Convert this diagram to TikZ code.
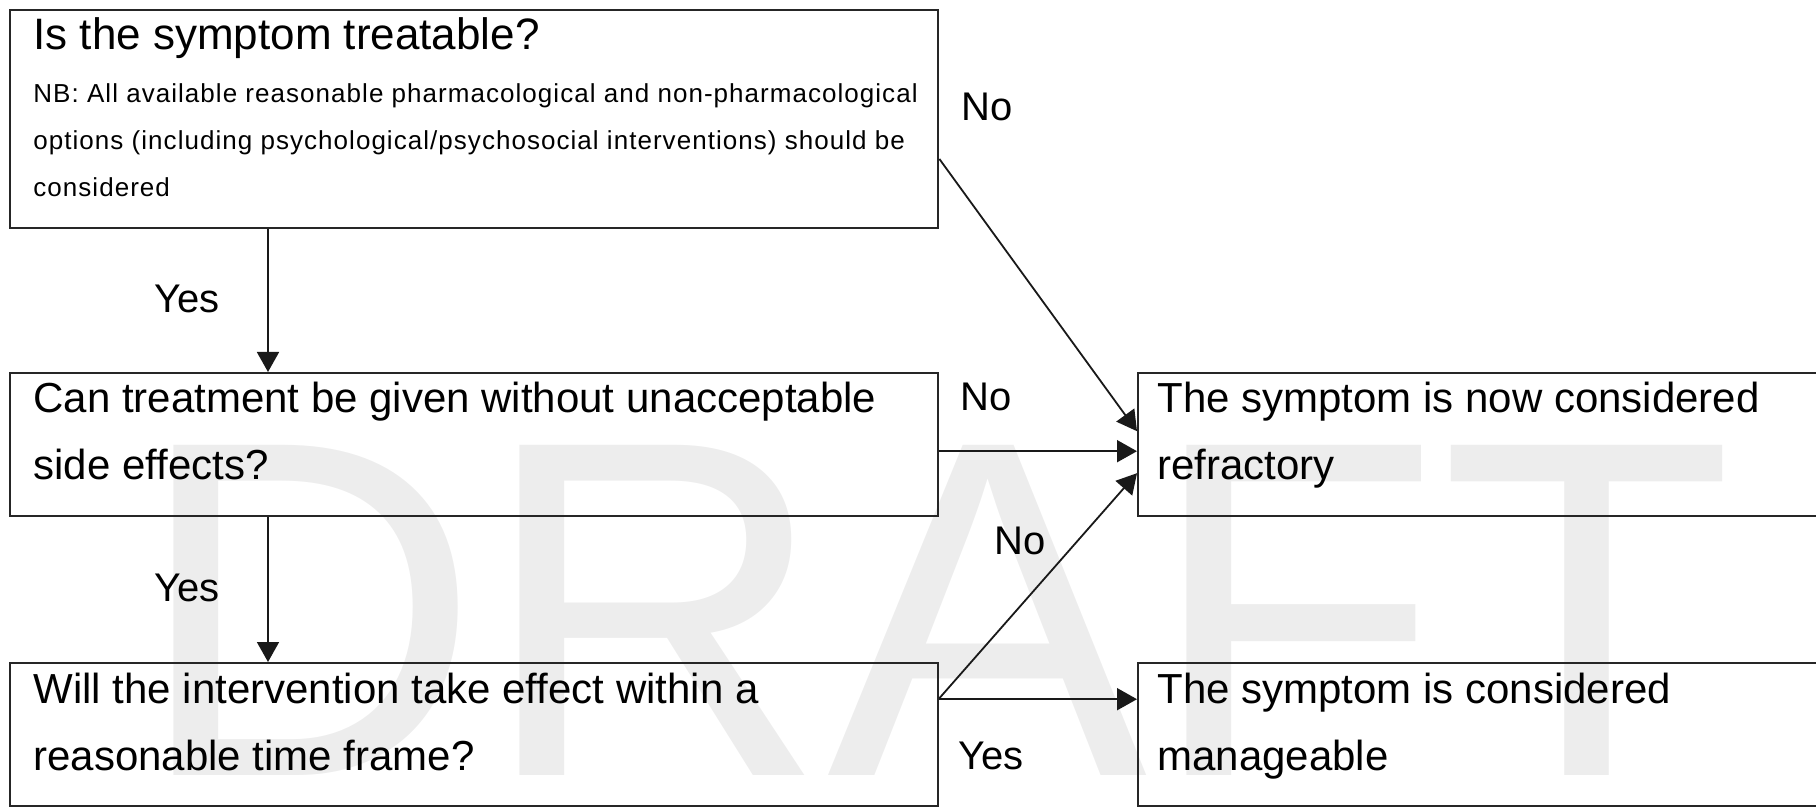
\documentclass[tikz,border=0pt]{standalone}
\usepackage{fontspec}
\setmainfont{Liberation Sans}
\newfontfamily\nbfont[LetterSpace=4]{Liberation Sans}
\usetikzlibrary{arrows.meta}
\begin{document}
\begin{tikzpicture}[x=0.5pt,y=-0.5pt,
  box/.style={draw=black!85, line width=1.2pt, inner sep=0pt, anchor=north west},
  txt/.style={anchor=base west, inner sep=0pt, font=\fontsize{21}{25}\selectfont},
  ttl/.style={anchor=base west, inner sep=0pt, font=\fontsize{22}{26}\selectfont},
  nb/.style={anchor=base west, inner sep=0pt, font=\nbfont\fontsize{13}{16}\selectfont},
  lbl/.style={anchor=west, inner sep=0pt, font=\fontsize{20}{24}\selectfont},
  arr/.style={-{Triangle[length=10pt,width=11pt]}, line width=0.9pt, draw=black!90}]
\useasboundingbox (0,0) rectangle (1816,807);
\clip (0,0) rectangle (1816,807);
% watermark
\node[anchor=base west, inner sep=0pt, text=black!7, font=\fontsize{240}{240}\selectfont] (wm) at (134,775) {DRAFT};
% boxes
\node[box, minimum width=464pt, minimum height=109pt] (q1) at (9,9) {};
\node[box, minimum width=464pt, minimum height=71.5pt] (q2) at (9,372) {};
\node[box, minimum width=464pt, minimum height=71.5pt] (q3) at (9,662) {};
\node[box, minimum width=346.5pt, minimum height=71.5pt] (r1) at (1137,372) {};
\node[box, minimum width=346.5pt, minimum height=71.5pt] (r2) at (1137,662) {};
% box texts
\node[ttl] (t1) at (33,50) {Is the symptom treatable?};
\node[nb] (n1) at (33,103) {NB: All available reasonable pharmacological and non-pharmacological};
\node[nb] (n2) at (33,150) {options (including psychological/psychosocial interventions) should be};
\node[nb] (n3) at (33,197) {considered};
\node[txt] (t2a) at (33,413) {Can treatment be given without unacceptable};
\node[txt] (t2b) at (33,480) {side effects?};
\node[txt] (t3a) at (33,703) {Will the intervention take effect within a};
\node[txt] (t3b) at (33,770) {reasonable time frame?};
\node[txt] (t4a) at (1157,413) {The symptom is now considered};
\node[txt] (t4b) at (1157,480) {refractory};
\node[txt] (t5a) at (1157,703) {The symptom is considered};
\node[txt] (t5b) at (1157,770) {manageable};
% helper coordinates
\coordinate (cx) at (268,0);
\coordinate (cy) at (0,159);
% connectors
\draw[arr] (q1.south -| cx) -- (q2.north -| cx);
\draw[arr] (q2.south -| cx) -- (q3.north -| cx);
\draw[arr] (q1.east |- cy) -- ([yshift=6.75pt]r1.west);
\draw[arr] ([yshift=-3.25pt]q2.east) -- ([yshift=-3.25pt]r1.west);
\draw[arr] ([yshift=18.25pt]q3.east) -- ([yshift=-14.25pt]r1.west);
\draw[arr] ([yshift=17.75pt]q3.east) -- ([yshift=17.75pt]r2.west);
% labels
\node[lbl] (l1) at (961,107) {No};
\node[lbl] (l2) at (960,397) {No};
\node[lbl] (l3) at (994,541) {No};
\node[lbl] (l4) at (154,299) {Yes};
\node[lbl] (l5) at (154,588) {Yes};
\node[lbl] (l6) at (958,756) {Yes};
\end{tikzpicture}
\end{document}
